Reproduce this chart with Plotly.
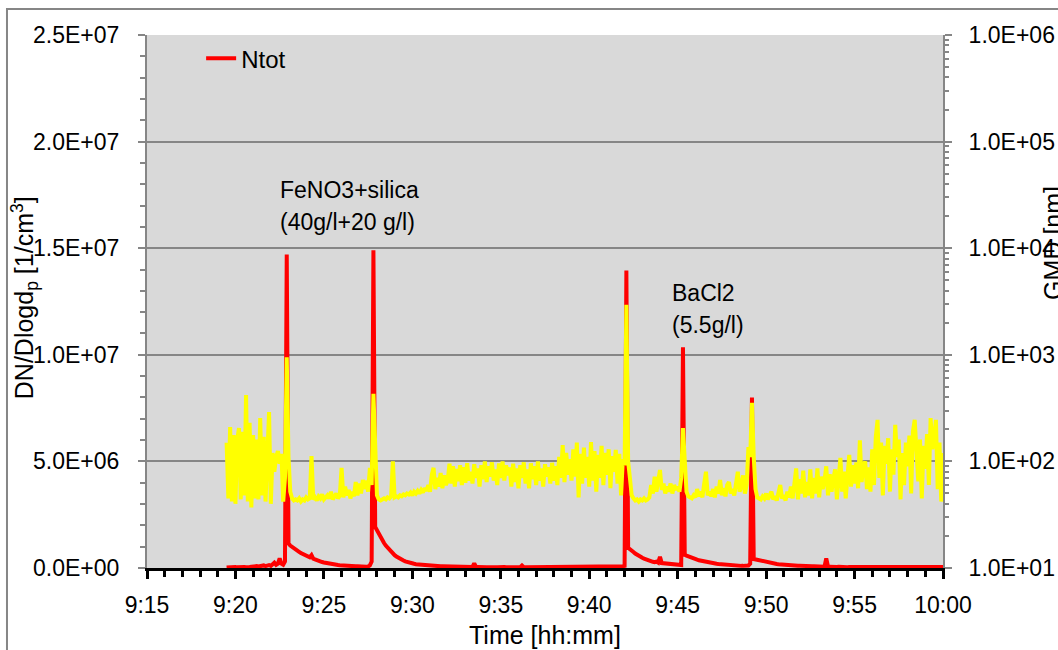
import plotly.graph_objects as go

# ---------------- data (time grid: minutes after 9:00, 0.1 min sampling) -------------
T_START = 19.5
T_STEP = 0.1

# Ntot in units of 1E+06 1/cm3, one row per minute (starting at xx.5)
ntot_e6 = [
    0.02, 0.03, 0.02, 0.04, 0.03, 0.05, 0.03, 0.04, 0.06, 0.04,   # 19.5
    0.05, 0.04, 0.07, 0.05, 0.06, 0.08, 0.06, 0.09, 0.07, 0.10,   # 20.5
    0.08, 0.12, 0.09, 0.11, 0.14, 0.10, 0.16, 0.25, 0.15, 0.20,   # 21.5
    0.45, 0.20, 0.15, 0.30, 14.7, 1.15, 1.05, 0.98, 0.92, 0.86,   # 22.5
    0.82, 0.76, 0.70, 0.65, 0.62, 0.58, 0.53, 0.50, 0.60, 0.44,   # 23.5
    0.40, 0.36, 0.33, 0.31, 0.28, 0.26, 0.24, 0.22, 0.20, 0.18,   # 24.5
    0.17, 0.16, 0.15, 0.14, 0.13, 0.12, 0.11, 0.11, 0.10, 0.10,   # 25.5
    0.09, 0.09, 0.08, 0.08, 0.08, 0.07, 0.07, 0.07, 0.07, 0.06,   # 26.5
    0.07, 0.12, 0.30, 14.9, 1.92, 1.75, 1.62, 1.45, 1.30, 1.17,   # 27.5
    1.05, 0.95, 0.85, 0.75, 0.68, 0.60, 0.54, 0.48, 0.43, 0.39,   # 28.5
    0.35, 0.31, 0.28, 0.26, 0.24, 0.22, 0.20, 0.18, 0.17, 0.16,   # 29.5
    0.15, 0.14, 0.13, 0.12, 0.12, 0.11, 0.10, 0.10, 0.09, 0.09,   # 30.5
    0.09, 0.08, 0.08, 0.08, 0.07, 0.07, 0.07, 0.07, 0.06, 0.06,   # 31.5
    0.06, 0.06, 0.06, 0.05, 0.06, 0.05, 0.05, 0.05, 0.05, 0.05,   # 32.5
    0.22, 0.05, 0.05, 0.04, 0.05, 0.04, 0.05, 0.04, 0.04, 0.05,   # 33.5
    0.04, 0.05, 0.04, 0.04, 0.05, 0.04, 0.04, 0.05, 0.04, 0.04,   # 34.5
    0.04, 0.05, 0.04, 0.04, 0.04, 0.05, 0.04, 0.12, 0.04, 0.04,   # 35.5
    0.04, 0.04, 0.05, 0.04, 0.04, 0.04, 0.05, 0.04, 0.04, 0.04,   # 36.5
    0.05, 0.04, 0.04, 0.04, 0.05, 0.04, 0.04, 0.04, 0.05, 0.04,   # 37.5
    0.04, 0.05, 0.04, 0.04, 0.04, 0.05, 0.04, 0.04, 0.05, 0.04,   # 38.5
    0.04, 0.04, 0.05, 0.04, 0.04, 0.04, 0.05, 0.04, 0.04, 0.05,   # 39.5
    0.04, 0.04, 0.04, 0.05, 0.04, 0.04, 0.05, 0.04, 0.04, 0.05,   # 40.5
    0.05, 0.04, 0.05, 0.06, 0.08, 0.10, 13.95, 0.95, 0.90, 0.82,  # 41.5
    0.75, 0.68, 0.62, 0.57, 0.52, 0.48, 0.44, 0.40, 0.36, 0.33,   # 42.5
    0.31, 0.29, 0.27, 0.30, 0.25, 0.53, 0.23, 0.22, 0.20, 0.19,   # 43.5
    0.18, 0.17, 0.16, 0.15, 0.15, 0.14, 0.13, 0.14, 10.35, 0.62,  # 44.5
    0.58, 0.54, 0.50, 0.46, 0.43, 0.41, 0.39, 0.36, 0.34, 0.32,   # 45.5
    0.30, 0.28, 0.27, 0.26, 0.24, 0.23, 0.21, 0.20, 0.19, 0.18,   # 46.5
    0.17, 0.16, 0.15, 0.15, 0.14, 0.13, 0.13, 0.12, 0.12, 0.11,   # 47.5
    0.11, 0.10, 0.10, 0.10, 0.09, 0.12, 0.20, 8.0, 0.42, 0.40,    # 48.5
    0.37, 0.35, 0.33, 0.31, 0.29, 0.27, 0.25, 0.23, 0.22, 0.21,   # 49.5
    0.20, 0.19, 0.18, 0.17, 0.16, 0.16, 0.15, 0.15, 0.14, 0.13,   # 50.5
    0.13, 0.12, 0.12, 0.11, 0.11, 0.10, 0.10, 0.10, 0.09, 0.09,   # 51.5
    0.09, 0.08, 0.08, 0.08, 0.07, 0.07, 0.07, 0.07, 0.06, 0.45,   # 52.5
    0.06, 0.06, 0.05, 0.06, 0.05, 0.05, 0.06, 0.05, 0.05, 0.05,   # 53.5
    0.05, 0.04, 0.05, 0.05, 0.04, 0.05, 0.05, 0.04, 0.05, 0.05,   # 54.5
    0.04, 0.05, 0.05, 0.04, 0.05, 0.04, 0.05, 0.05, 0.04, 0.05,   # 55.5
    0.05, 0.04, 0.05, 0.05, 0.04, 0.05, 0.06, 0.04, 0.05, 0.05,   # 56.5
    0.04, 0.05, 0.05, 0.04, 0.05, 0.05, 0.04, 0.05, 0.05, 0.04,   # 57.5
    0.05, 0.05, 0.04, 0.05, 0.05, 0.08, 0.05, 0.04, 0.05, 0.05,   # 58.5
    0.04, 0.05, 0.05, 0.04, 0.05, 0.05,                           # 59.5
]

# GMD in nm, same time grid
gmd_nm = [
    150, 45, 210, 42, 177, 40, 160, 205, 44, 190,     # 19.5
    48, 420, 42, 230, 37, 177, 45, 160, 44, 255,      # 20.5
    48, 170, 42, 150, 290, 40, 120, 80, 110, 125,     # 21.5
    95, 118, 42, 70, 950, 110, 52, 45, 43, 44,        # 22.5
    43, 45, 42, 44, 43, 46, 44, 45, 112, 44,          # 23.5
    46, 43, 47, 45, 49, 44, 46, 48, 45, 52,           # 24.5
    44, 47, 50, 45, 48, 87, 46, 58, 48, 54,           # 25.5
    45, 52, 47, 64, 48, 62, 50, 67, 55, 66,           # 26.5
    52, 87, 60, 430, 100, 48, 44, 43, 44, 45,         # 27.5
    44, 46, 45, 47, 100, 46, 47, 46, 48, 47,          # 28.5
    49, 48, 50, 49, 51, 48, 52, 50, 53, 50,           # 29.5
    54, 51, 56, 53, 60, 52, 75, 87, 55, 70,           # 30.5
    58, 78, 56, 74, 60, 66, 95, 62, 90, 58,           # 31.5
    85, 65, 92, 60, 88, 63, 96, 66, 80, 62,           # 32.5
    94, 70, 86, 58, 92, 68, 100, 64, 90, 72,          # 33.5
    98, 66, 84, 60, 96, 70, 100, 66, 92, 74,          # 34.5
    88, 58, 95, 64, 86, 56, 92, 70, 98, 62,           # 35.5
    84, 56, 96, 68, 90, 60, 100, 66, 86, 58,          # 36.5
    94, 72, 88, 62, 97, 66, 90, 60, 110, 70,          # 37.5
    142, 64, 120, 75, 105, 66, 130, 72, 150, 46,      # 38.5
    118, 62, 135, 70, 110, 58, 152, 66, 125, 52,      # 39.5
    115, 70, 140, 60, 120, 75, 130, 56, 112, 80,      # 40.5
    128, 62, 118, 48, 105, 92, 2950, 100, 70, 48,     # 41.5
    45, 43, 44, 42, 44, 43, 45, 43, 44, 46,           # 42.5
    60, 50, 72, 52, 66, 83, 54, 62, 50, 58,           # 43.5
    52, 62, 50, 60, 54, 58, 52, 70, 205, 100,         # 44.5
    52, 47, 46, 45, 48, 46, 55, 47, 52, 46,           # 45.5
    62, 80, 48, 52, 47, 55, 46, 58, 50, 67,           # 46.5
    48, 56, 47, 60, 64, 50, 55, 48, 62, 80,           # 47.5
    52, 58, 74, 50, 60, 136, 110, 355, 110, 55,       # 48.5
    46, 45, 44, 47, 45, 50, 44, 48, 52, 44,           # 49.5
    47, 43, 50, 60, 45, 48, 43, 52, 46, 58,           # 50.5
    45, 62, 86, 44, 68, 50, 82, 46, 64, 48,           # 51.5
    84, 45, 70, 50, 86, 46, 72, 55, 66, 90,           # 52.5
    48, 76, 52, 68, 84, 44, 75, 108, 52, 80,          # 53.5
    45, 70, 115, 58, 92, 62, 98, 56, 158, 64,         # 54.5
    90, 100, 55, 88, 52, 130, 60, 170, 245, 70,       # 55.5
    150, 48, 140, 95, 165, 52, 130, 75, 220, 110,     # 56.5
    160, 44, 120, 60, 150, 90, 175, 50, 190, 245,     # 57.5
    120, 65, 160, 45, 140, 85, 180, 60, 255, 130,     # 58.5
    170, 245, 55, 150, 42, 120,                       # 59.5
]

x_tick_vals = [15, 20, 25, 30, 35, 40, 45, 50, 55, 60]
x_tick_text = ["9:15", "9:20", "9:25", "9:30", "9:35", "9:40", "9:45", "9:50", "9:55", "10:00"]
y_tick_vals = [0, 5e6, 1e7, 1.5e7, 2e7, 2.5e7]
y_tick_text = ["0.0E+00", "5.0E+06", "1.0E+07", "1.5E+07", "2.0E+07", "2.5E+07"]
y2_tick_vals = [1e1, 1e2, 1e3, 1e4, 1e5, 1e6]
y2_tick_text = ["1.0E+01", "1.0E+02", "1.0E+03", "1.0E+04", "1.0E+05", "1.0E+06"]

assert len(ntot_e6) == len(gmd_nm) == 406

minutes = [round(T_START + T_STEP * i, 2) for i in range(len(gmd_nm))]
ntot = [v * 1e6 for v in ntot_e6]

FONT = "Liberation Sans, Arial, sans-serif"
FS_TICK = 23
FS_TITLE = 25
FS_ANN = 23
GRAY = "#868686"

fig = go.Figure()
fig.add_trace(go.Scatter(x=minutes, y=ntot, mode="lines", name="Ntot",
                         line=dict(color="#ff0000", width=4), xaxis="x", yaxis="y"))
fig.add_trace(go.Scatter(x=minutes, y=gmd_nm, mode="lines", name="GMD",
                         line=dict(color="#ffff00", width=4), showlegend=False,
                         xaxis="x", yaxis="y2"))

fig.update_layout(
    width=1058, height=650,
    margin=dict(l=147, r=115, t=35, b=82, autoexpand=False),
    paper_bgcolor="white", plot_bgcolor="#d9d9d9",
    font=dict(family=FONT, size=FS_TICK, color="black"),
    legend=dict(x=0.068, y=0.998, xanchor="left", yanchor="top",
                bgcolor="rgba(0,0,0,0)", font=dict(size=24)),
    xaxis=dict(range=[15, 60], tickmode="array", tickvals=x_tick_vals, ticktext=x_tick_text,
               ticks="outside", ticklen=8, tickwidth=3, tickcolor="black",
               showline=True, linecolor="black", linewidth=3, automargin=False,
               showgrid=False, zeroline=False, ticklabelstandoff=6,
               minor=dict(tickmode="linear", tick0=15, dtick=1, ticks="outside",
                          ticklen=6, tickwidth=3, tickcolor="black", showgrid=False)),
    xaxis2=dict(range=[15, 60], overlaying="x", anchor="y", side="bottom",
                tickmode="array", tickvals=x_tick_vals, ticks="inside", ticklen=8,
                tickwidth=3, tickcolor="black", showticklabels=False, automargin=False,
                showgrid=False, zeroline=False, showline=False),
    yaxis=dict(range=[0, 2.5e7], tickmode="array", tickvals=y_tick_vals, ticktext=y_tick_text,
               ticks="outside", ticklen=7, tickwidth=2, tickcolor=GRAY,
               showline=True, linecolor=GRAY, linewidth=2, automargin=False,
               showgrid=True, gridcolor=GRAY, gridwidth=2, zeroline=False,
               ticklabelstandoff=14,
               minor=dict(tickmode="linear", tick0=0, dtick=1e6, ticks="outside",
                          ticklen=5, tickwidth=2, tickcolor=GRAY, showgrid=False)),
    yaxis2=dict(type="log", range=[1, 6], overlaying="y", side="right", anchor="x",
                tickmode="array", tickvals=y2_tick_vals, ticktext=y2_tick_text,
                ticks="outside", ticklen=7, tickwidth=2, tickcolor=GRAY,
                showline=True, linecolor=GRAY, linewidth=2, automargin=False,
                showgrid=False, zeroline=False, ticklabelstandoff=12,
                minor=dict(dtick="D1", ticks="outside", ticklen=4, tickwidth=1.5,
                           tickcolor=GRAY, showgrid=False)),
)

annotations = [
    dict(text="FeNO3+silica", x=22.4, y=17.73e6, xref="x", yref="y",
         xanchor="left", yanchor="middle", showarrow=False, font=dict(size=FS_ANN)),
    dict(text="(40g/l+20 g/l)", x=22.4, y=16.23e6, xref="x", yref="y",
         xanchor="left", yanchor="middle", showarrow=False, font=dict(size=FS_ANN)),
    dict(text="BaCl2", x=44.57, y=12.9e6, xref="x", yref="y",
         xanchor="left", yanchor="middle", showarrow=False, font=dict(size=FS_ANN)),
    dict(text="(5.5g/l)", x=44.57, y=11.4e6, xref="x", yref="y",
         xanchor="left", yanchor="middle", showarrow=False, font=dict(size=FS_ANN)),
    dict(text="Time [hh:mm]", x=0.5, y=-0.1257, xref="paper", yref="paper",
         xanchor="center", yanchor="middle", showarrow=False, font=dict(size=FS_TITLE)),
    dict(text="DN/Dlogd<sub>p</sub> [1/cm<sup>3</sup>]", x=-0.1533, y=0.508,
         xref="paper", yref="paper", textangle=-90,
         xanchor="center", yanchor="middle", showarrow=False, font=dict(size=FS_TITLE)),
    dict(text="GMD [nm]", x=1.1382, y=0.61, xref="paper", yref="paper", textangle=-90,
         xanchor="center", yanchor="middle", showarrow=False, font=dict(size=FS_TITLE)),
]
fig.update_layout(annotations=annotations)

# outer chart-area border
fig.add_shape(type="rect", xref="paper", yref="paper",
              x0=-0.1759, x1=1.16, y0=-0.18, y1=1.0488,
              line=dict(color=GRAY, width=2), fillcolor="rgba(0,0,0,0)", layer="below")

fig.write_html("out.html")
